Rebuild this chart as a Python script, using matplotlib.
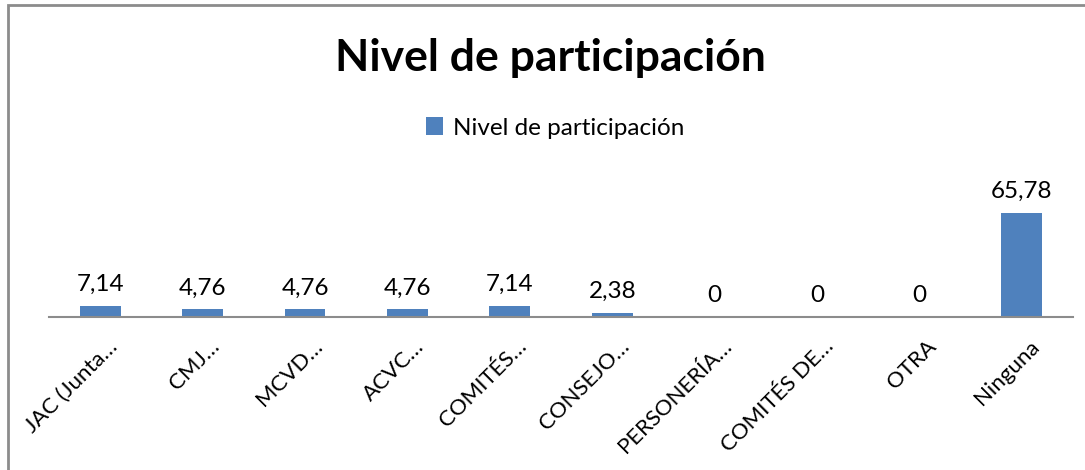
import matplotlib.pyplot as plt
from matplotlib.patches import Rectangle
from matplotlib.transforms import ScaledTranslation

plt.rcParams["font.family"] = ["Lato", "DejaVu Sans"]

categories = ["JAC (Junta…", "CMJ…", "MCVD…", "ACVC…", "COMITÉS…",
              "CONSEJO…", "PERSONERÍA…", "COMITÉS DE…", "OTRA", "Ninguna"]
values = [7.14, 4.76, 4.76, 4.76, 7.14, 2.38, 0, 0, 0, 65.78]
value_labels = ["7,14", "4,76", "4,76", "4,76", "7,14", "2,38", "0", "0", "0", "65,78"]
series_name = "Nivel de participación"

W, H = 1085, 470
fig = plt.figure(figsize=(W / 100, H / 100), dpi=100)

# outer chart border (cut off at right and bottom like the screenshot)
fig.patches.append(Rectangle((8 / W, -0.05), 1.1, 1 - 5 / H + 0.05,
                             transform=fig.transFigure, fill=False,
                             edgecolor="#8c8c8c", linewidth=2))

ax = fig.add_axes([49 / W, (H - 317) / H, (1073 - 49) / W, 126.5 / H])
x = range(len(categories))
bars = ax.bar(x, values, width=0.4, color="#4f81bd", label=series_name)
ax.set_xlim(-0.5, len(categories) - 0.5)
ax.set_ylim(0, 80)

for b, lbl in zip(bars, value_labels):
    ax.annotate(lbl, (b.get_x() + b.get_width() / 2, b.get_height()),
                xytext=(0, 8), textcoords="offset points",
                ha="center", va="bottom", fontsize=17.5, color="black")

for s in ["top", "right", "left"]:
    ax.spines[s].set_visible(False)
ax.spines["bottom"].set_color("#8c8c8c")
ax.spines["bottom"].set_linewidth(1.5)
ax.set_yticks([])
ax.set_xticks(list(x))
ax.set_xticklabels(categories, rotation=45, ha="right", va="center",
                   rotation_mode="anchor", fontsize=16)
ax.tick_params(axis="x", length=0, pad=19)
# Excel puts the end of the label a bit right of the category centre
shift = ScaledTranslation(14 / 100, 0, fig.dpi_scale_trans)
for t in ax.get_xticklabels():
    t.set_transform(t.get_transform() + shift)

fig.text(550 / W, 1 - 58 / H, "Nivel de participación", ha="center", va="center",
         fontsize=32, fontweight="bold")

fig.legend(handles=[bars], labels=[series_name], loc="center",
           bbox_to_anchor=(555 / W, 1 - 128 / H), frameon=False, fontsize=17.5,
           handlelength=0.7, handleheight=0.7, handletextpad=0.4)

fig.savefig("out.png", dpi=100)
